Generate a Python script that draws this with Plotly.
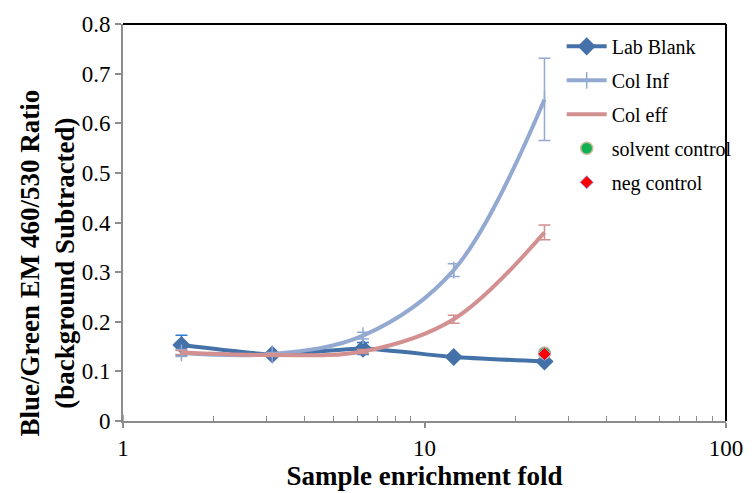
import plotly.graph_objects as go

x_fold = [1.5625, 3.125, 6.25, 12.5, 25]
lab_blank = [0.153, 0.134, 0.146, 0.129, 0.120]
lab_blank_err = [0.020, 0.004, 0.012, 0.003, 0.003]
col_inf = [0.137, 0.135, 0.172, 0.304, 0.648]
col_inf_err = [0.007, 0.003, 0.007, 0.013, 0.083]
col_eff = [0.138, 0.133, 0.140, 0.205, 0.380]
col_eff_err = [0.004, 0.003, 0.004, 0.008, 0.015]
ctrl_x = [25]
solvent_control = [0.137]
neg_control = [0.135]

x_ticks = [1, 10, 100]
x_minor = [2, 3, 4, 5, 6, 7, 8, 9, 20, 30, 40, 50, 60, 70, 80, 90]

FONT = "Liberation Serif"

fig = go.Figure()
fig.add_trace(go.Scatter(
    x=x_fold, y=lab_blank, name="Lab Blank", mode="lines+markers",
    line=dict(color="#4472A8", width=4, shape="spline", smoothing=0.5),
    marker=dict(symbol="diamond", size=14, color="#4472A8"),
    error_y=dict(type="data", array=lab_blank_err, color="#2F7BD0", thickness=1.5, width=6),
    legendgroup="a"))
fig.add_trace(go.Scatter(
    x=x_fold, y=col_inf, name="Col Inf", mode="lines+markers",
    line=dict(color="#93A9D1", width=4, shape="spline", smoothing=1.0),
    marker=dict(symbol="line-ns", size=12, color="#93A9D1", line=dict(color="#93A9D1", width=1.5)),
    error_y=dict(type="data", array=col_inf_err, color="#93A9D1", thickness=1.5, width=6),
    legendgroup="b"))
fig.add_trace(go.Scatter(
    x=x_fold, y=col_eff, name="Col eff", mode="lines",
    line=dict(color="#D39090", width=4, shape="spline", smoothing=1.0),
    error_y=dict(type="data", array=col_eff_err, color="#D39090", thickness=1.5, width=6),
    legendgroup="c"))
fig.add_trace(go.Scatter(
    x=ctrl_x, y=solvent_control, name="solvent control", mode="markers",
    marker=dict(symbol="circle", size=12, color="#10B050", line=dict(color="#C8B89A", width=1.5)),
    legendgroup="d"))
fig.add_trace(go.Scatter(
    x=ctrl_x, y=neg_control, name="neg control", mode="markers",
    marker=dict(symbol="diamond", size=10, color="#FF0000", line=dict(color="#9A9AE0", width=1)),
    legendgroup="e"))

fig.update_layout(
    width=755, height=493,
    margin=dict(l=123, r=20, t=17, b=71),
    paper_bgcolor="white", plot_bgcolor="white",
    font=dict(family=FONT, size=23, color="black"),
    showlegend=True,
    legend=dict(x=0.7275, y=0.993, xanchor="left", yanchor="top",
                font=dict(family=FONT, size=20, color="black"),
                bgcolor="rgba(255,255,255,0)", traceorder="grouped",
                tracegroupgap=5, itemwidth=40),
    xaxis=dict(type="log", range=[0, 2], tickvals=x_ticks, ticktext=["1", "10", "100"],
               showgrid=False, zeroline=False, showline=True, linecolor="#8C8C8C", linewidth=2,
               ticks="outside", ticklen=5, tickcolor="#8C8C8C", tickwidth=1.5,
               minor=dict(tickvals=x_minor, ticks="inside", ticklen=5, tickcolor="#8C8C8C", tickwidth=1),
               tickfont=dict(family=FONT, size=23),
               title=dict(text="<b>Sample enrichment fold</b>", font=dict(family=FONT, size=27), standoff=2)),
    yaxis=dict(range=[0, 0.8], dtick=0.1, showgrid=False, zeroline=False,
               showline=True, linecolor="#8C8C8C", linewidth=2,
               ticks="outside", ticklen=6, tickcolor="#8C8C8C", tickwidth=1.5,
               tickfont=dict(family=FONT, size=23)),
    annotations=[
        dict(text="<b>Blue/Green EM 460/530 Ratio<br>(background Subtracted)</b>",
             xref="paper", yref="paper", x=-0.126, y=0.397, xanchor="center", yanchor="middle",
             textangle=-90, showarrow=False, font=dict(family=FONT, size=27, color="black")),
    ],
    shapes=[
        dict(type="line", xref="paper", yref="paper", x0=0, x1=1, y0=1, y1=1,
             line=dict(color="black", width=2)),
        dict(type="line", xref="paper", yref="paper", x0=1, x1=1, y0=0, y1=1,
             line=dict(color="black", width=2)),
        dict(type="line", xref="x", yref="paper", x0=1, x1=1, y0=0, y1=0.016,
             line=dict(color="#8C8C8C", width=1.5)),
    ],
)

fig.write_html("out.html")
